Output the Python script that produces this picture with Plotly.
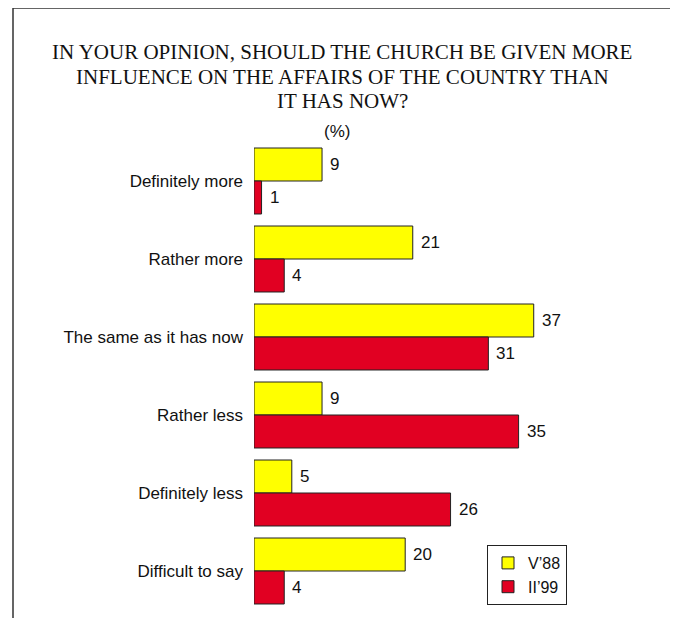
import plotly.graph_objects as go

categories = ["Definitely more", "Rather more", "The same as it has now",
              "Rather less", "Definitely less", "Difficult to say"]
v88 = [9, 21, 37, 9, 5, 20]
ii99 = [1, 4, 31, 35, 26, 4]
series_names = ["V\u201988", "II\u201999"]
title_lines = ["IN YOUR OPINION, SHOULD THE CHURCH BE GIVEN MORE",
               "INFLUENCE ON THE AFFAIRS OF THE COUNTRY THAN",
               "IT HAS NOW?"]

YELLOW = "#FFFF00"
RED = "#E10022"
FONT = "Liberation Sans, Arial"

# page offset (body margin of the html page)
OFF = 8
W, H = 670, 610
L, R, T, B = 246, 46, 134, 8
pw = W - L - R
ph = H - T - B


def px_x(x):
    return (x - OFF - L) / pw


def px_y(y):
    return (H - B - (y - OFF)) / ph


fig = go.Figure()
for name, vals, col in [(series_names[0], v88, YELLOW), (series_names[1], ii99, RED)]:
    fig.add_trace(go.Bar(
        y=categories, x=vals, orientation="h", name=name,
        marker=dict(color=col, line=dict(color="#222222", width=1)),
    ))

for vals, shift in [(v88, 16.5), (ii99, -16.5)]:
    for c, v in zip(categories, vals):
        fig.add_annotation(x=v, y=c, xref="x", yref="y", text=str(v),
                           showarrow=False, xanchor="left", yanchor="middle",
                           xshift=6, yshift=shift,
                           font=dict(family=FONT, size=17, color="#111111"))

fig.update_layout(
    width=W, height=H,
    margin=dict(l=L, r=R, t=T, b=B),
    paper_bgcolor="white", plot_bgcolor="white",
    barmode="group", bargap=0.154, bargroupgap=0,
    showlegend=True,
    legend=dict(x=px_x(487), y=px_y(545), xanchor="left", yanchor="top",
                bordercolor="#222222", borderwidth=1, bgcolor="white",
                font=dict(family=FONT, size=16, color="#111111"),
                itemwidth=30, tracegroupgap=0),
    xaxis=dict(range=[0, 50], visible=False, showgrid=False, zeroline=False),
    yaxis=dict(autorange="reversed", showgrid=False, zeroline=False, showline=False,
               ticks="", ticklabelstandoff=10,
               tickfont=dict(family=FONT, size=17, color="#111111")),
    font=dict(family=FONT),
)

for line, yc in zip(title_lines, [52, 77, 101]):
    fig.add_annotation(
        xref="paper", yref="paper", x=px_x(342), y=px_y(yc),
        xanchor="center", yanchor="middle", showarrow=False,
        text=line,
        font=dict(family="Liberation Serif, Times New Roman", size=21, color="#111111"),
    )
fig.add_annotation(
    xref="paper", yref="paper", x=px_x(337), y=px_y(131),
    xanchor="center", yanchor="middle", showarrow=False,
    text="(%)", font=dict(family=FONT, size=17, color="#111111"),
)

fig.add_shape(type="path", xref="paper", yref="paper",
              path=f"M {px_x(13)},{px_y(640)} L {px_x(13)},{px_y(8)} L {px_x(676)},{px_y(8)} L {px_x(676)},{px_y(640)}",
              line=dict(color="#333333", width=1.5))

fig.write_html("out.html")
